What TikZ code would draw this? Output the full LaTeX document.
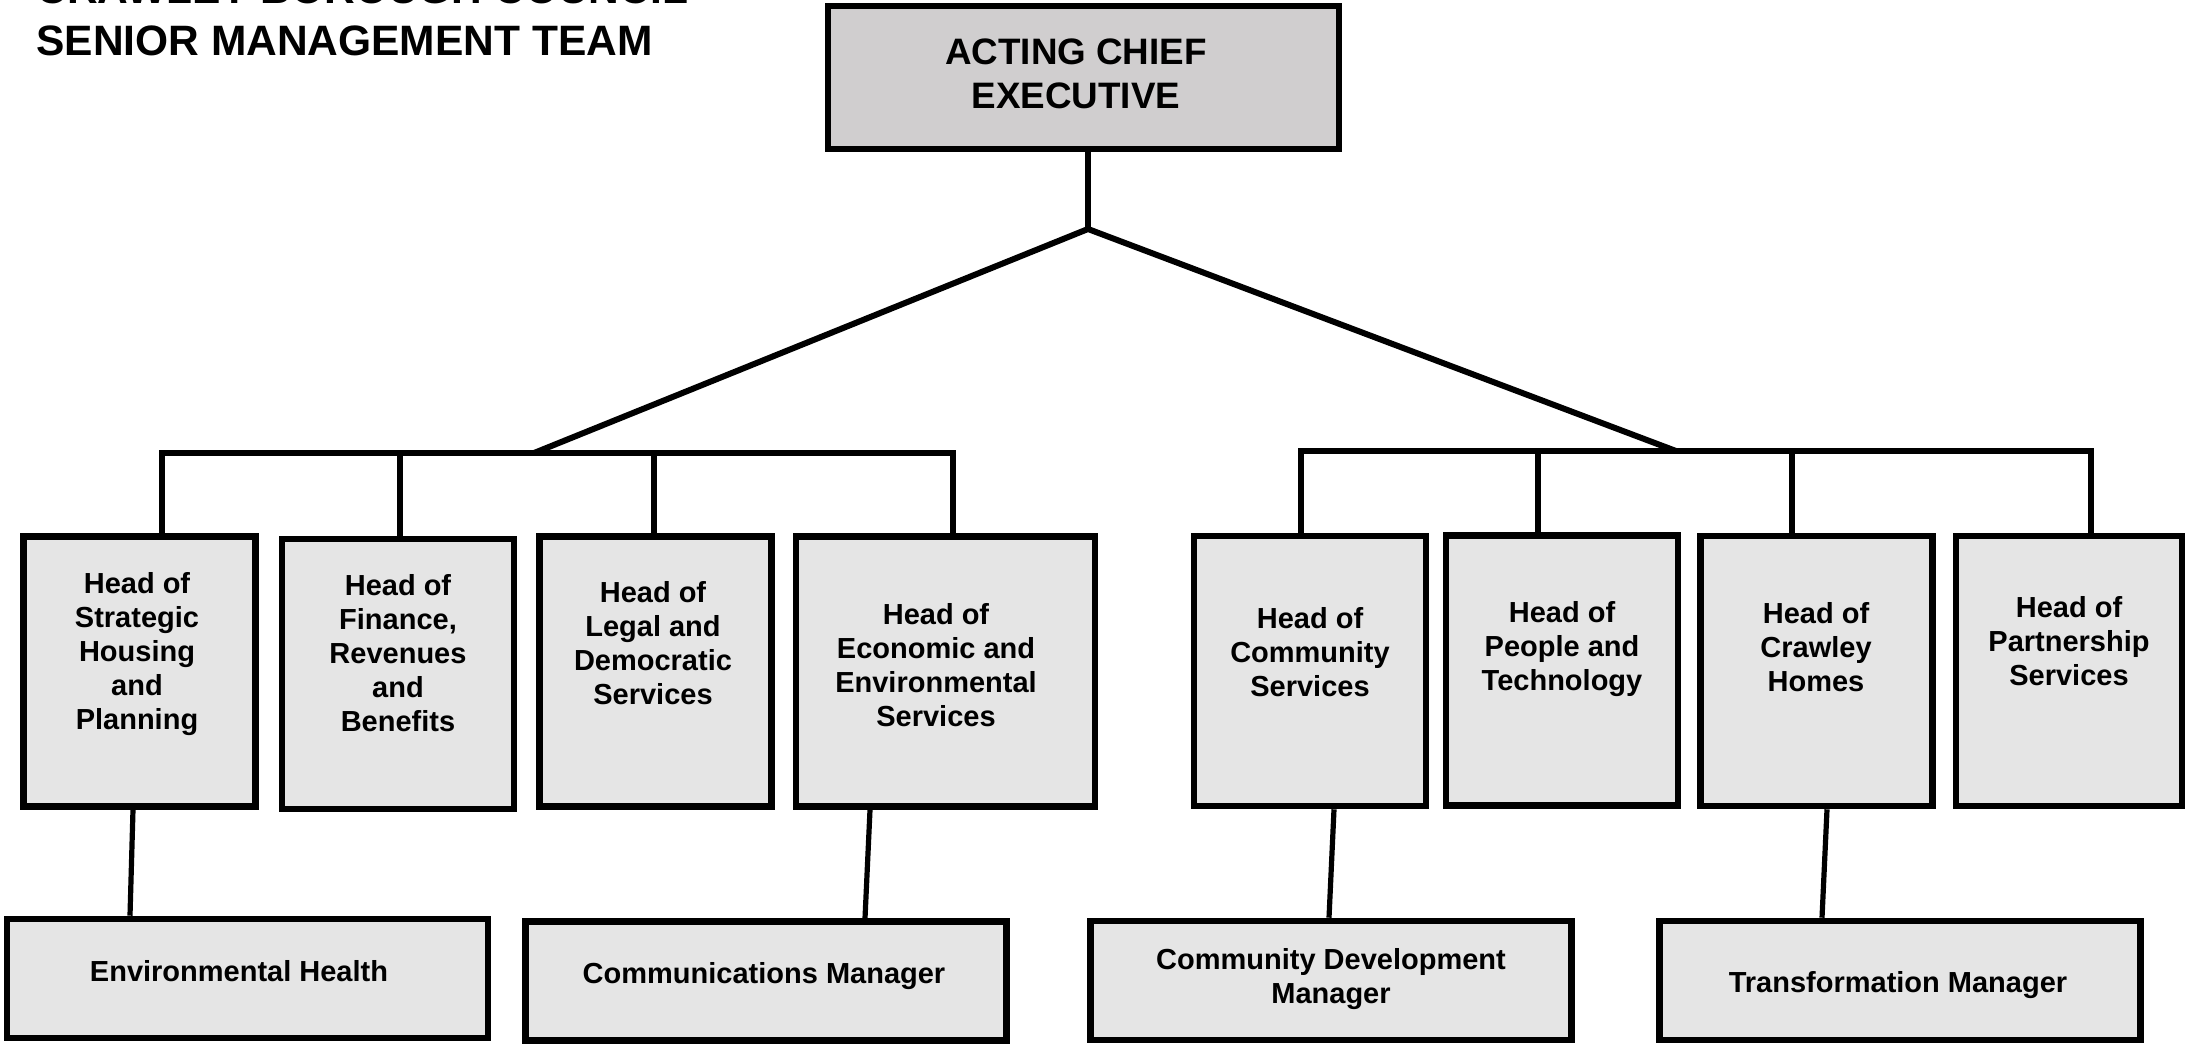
\documentclass[tikz,border=0pt]{standalone}
\usepackage{fontspec}
\setmainfont{Liberation Sans}
\usepackage{xcolor}
\definecolor{ceogray}{RGB}{208,206,207}
\definecolor{headgray}{RGB}{229,229,229}

\begin{document}
\begin{tikzpicture}[x=0.5pt,y=-0.5pt,
  box/.style={draw,line width=3.3pt,fill=headgray,inner sep=0pt},
  headbox/.style={box,minimum width=116pt,minimum height=135pt},
  subbox/.style={box,minimum width=240.5pt,minimum height=59.5pt},
  boxtext/.style={inner sep=0pt,align=center,font=\bfseries\fontsize{14.5}{17}\selectfont},
  titletext/.style={anchor=base west,inner sep=0pt,font=\bfseries\fontsize{21.25}{26}\selectfont},
  link/.style={line width=3pt},
  sublink/.style={line width=2.6pt}]
\useasboundingbox (0,0) rectangle (2188,1045);

% title, first line runs off the top
\node[titletext] (title1) at (36,3) {CRAWLEY BOROUGH COUNCIL};
\node[titletext] (title2) at (36,55) {SENIOR MANAGEMENT TEAM};

% chief executive
\node[box,fill=ceogray,minimum width=255.5pt,minimum height=71.5pt] (ceo) at (1083.5,77.5) {};
\node[boxtext,font=\bfseries\fontsize{18.4}{22}\selectfont] (ceotext) at (1076,73.5) {ACTING CHIEF\\EXECUTIVE};

% heads of service
\node[headbox] (h1) at (139.5,671.5) {};
\node[headbox] (h2) at (398,674) {};
\node[headbox] (h3) at (655.5,671.5) {};
\node[headbox,minimum width=149.5pt] (h4) at (945.5,671.5) {};
\node[headbox] (h5) at (1310,671) {};
\node[headbox] (h6) at (1562,670.5) {};
\node[headbox] (h7) at (1816.5,671) {};
\node[headbox,minimum width=113pt] (h8) at (2069,671) {};

\node[boxtext] (t1) at (137,654) {Head of\\Strategic\\Housing\\and\\Planning};
\node[boxtext] (t2) at (398,653) {Head of\\Finance,\\Revenues\\and\\Benefits};
\node[boxtext] (t3) at (653,643) {Head of\\Legal and\\Democratic\\Services};
\node[boxtext] (t4) at (936,665) {Head of\\Economic and\\Environmental\\Services};
\node[boxtext] (t5) at (1310,652) {Head of\\Community\\Services};
\node[boxtext] (t6) at (1562,649) {Head of\\People and\\Technology};
\node[boxtext] (t7) at (1816,647) {Head of\\Crawley\\Homes};
\node[boxtext] (t8) at (2069,641) {Head of\\Partnership\\Services};

% second tier
\node[subbox] (s1) at (247.5,978.5) {};
\node[subbox] (s2) at (766,981) {};
\node[subbox] (s3) at (1331,980.5) {};
\node[subbox] (s4) at (1900,980.5) {};

\node[boxtext] (u1) at (239,971.5) {Environmental Health};
\node[boxtext] (u2) at (764,976) {Communications Manager};
\node[boxtext] (u3) at (1331,979) {Community Development\\Manager};
\node[boxtext] (u4) at (1898,985) {Transformation Manager};

% branching
\coordinate (jn) at (1088,229);
\coordinate (jl) at (534,453);
\coordinate (jr) at (1676,451);
\coordinate (l1) at (162,453);
\coordinate (l2) at (400,453);
\coordinate (l3) at (654,453);
\coordinate (l4) at (953,453);
\coordinate (r1) at (1301,451);
\coordinate (r2) at (1538,451);
\coordinate (r3) at (1792,451);
\coordinate (r4) at (2091,451);

\draw[link] (ceo.south -| jn) -- (jn);
\draw[link] (jl) -- (jn) -- (jr);
\draw[link] (h1.north -| l1) -- (l1) -- (l4) -- (h4.north -| l4);
\draw[link] (l2) -- (h2.north -| l2);
\draw[link] (l3) -- (h3.north -| l3);
\draw[link] (h5.north -| r1) -- (r1) -- (r4) -- (h8.north -| r4);
\draw[link] (r2) -- (h6.north -| r2);
\draw[link] (r3) -- (h7.north -| r3);

\draw[sublink] ([xshift=-3.25pt]h1.south) -- ([xshift=-58.75pt]s1.north);
\draw[sublink] ([xshift=-37.75pt]h4.south) -- ([xshift=49.5pt]s2.north);
\draw[sublink] ([xshift=12pt]h5.south) -- ([xshift=-1pt]s3.north);
\draw[sublink] ([xshift=5.25pt]h7.south) -- ([xshift=-39pt]s4.north);
\end{tikzpicture}
\end{document}
